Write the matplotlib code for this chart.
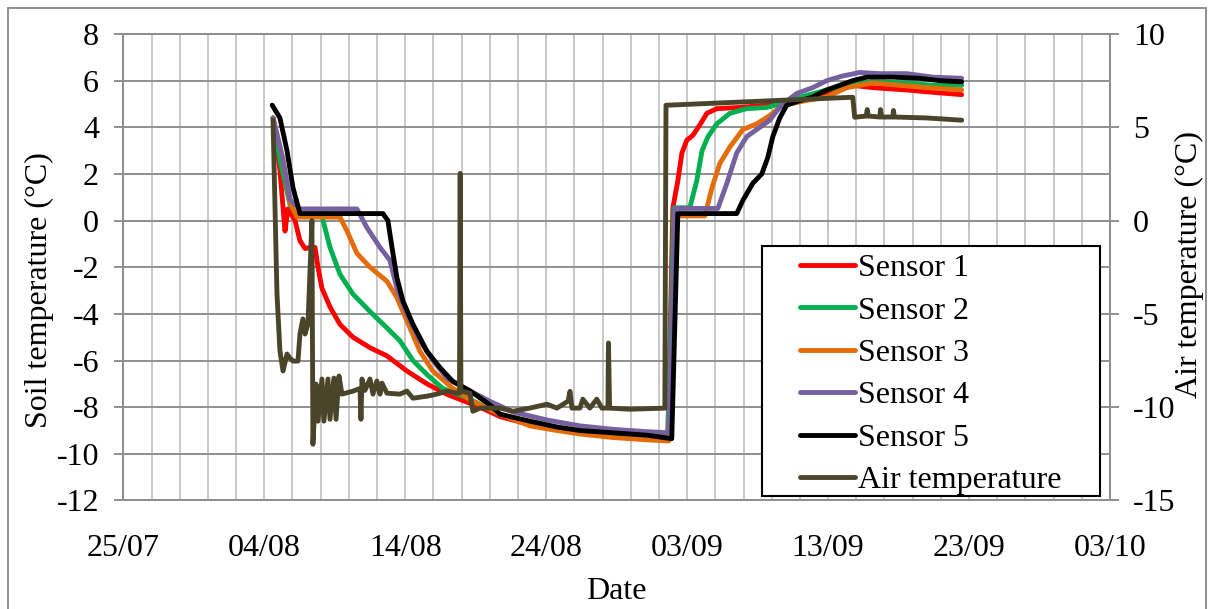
import matplotlib
matplotlib.use('Agg')
import matplotlib.pyplot as plt
from matplotlib.patches import Rectangle
from matplotlib.ticker import MultipleLocator

plt.rcParams['font.family'] = ['Liberation Serif', 'DejaVu Serif']
plt.rcParams['axes.unicode_minus'] = False

# x values are days counted from 25/07
date_labels = ['25/07', '04/08', '14/08', '24/08', '03/09', '13/09', '23/09', '03/10']

s1_day = [10.62, 11.11, 11.47, 11.68, 12.18, 12.53, 12.89, 13.24, 13.60, 13.81,
          14.09, 14.66, 15.37, 16.29, 17.50, 18.70, 20.12, 21.54, 22.96, 25.30,
          26.72, 28.84, 30.76, 32.39, 34.73, 37.14, 38.63, 38.99, 39.34, 39.63,
          39.98, 40.40, 40.90, 41.40, 42.11, 43.74, 45.65, 46.57, 47.78, 49.91,
          51.75, 53.17, 55.58, 57.42, 59.48]
s1_val = [4.4, 2.15, -0.45, 0.5, 0.0, -0.86, -1.2, -1.15, -1.15, -2.0,
          -2.9, -3.7, -4.45, -5.0, -5.45, -5.8, -6.45, -7.0, -7.45, -8.0,
          -8.4, -8.75, -8.9, -9.05, -9.15, -9.25, -9.3, 0.55, 1.7, 2.9,
          3.45, 3.65, 4.1, 4.6, 4.8, 4.85, 4.95, 5.0, 5.25, 5.45,
          5.8, 5.7, 5.6, 5.5, 5.4]

s2_day = [10.62, 11.11, 11.82, 12.32, 14.09, 14.66, 15.37, 16.29, 17.50, 18.70,
          19.62, 20.55, 21.54, 22.67, 24.38, 26.72, 28.84, 30.76, 32.39, 34.73,
          37.14, 38.63, 39.06, 40.19, 40.68, 41.06, 41.48, 42.11, 43.03, 44.23,
          45.65, 46.57, 47.78, 49.91, 51.75, 53.17, 55.58, 57.42, 59.48]
s2_val = [4.4, 2.6, 0.7, 0.2, 0.2, -1.15, -2.3, -3.15, -3.9, -4.6,
          -5.15, -6.0, -6.6, -7.2, -7.6, -8.3, -8.7, -8.9, -9.05, -9.15,
          -9.25, -9.3, 0.55, 0.55, 1.7, 3.0, 3.6, 4.15, 4.6, 4.8,
          4.85, 5.0, 5.25, 5.6, 5.85, 5.95, 5.9, 5.8, 5.8]

s3_day = [10.62, 11.33, 11.82, 12.32, 15.37, 15.87, 16.57, 17.50, 18.70, 19.41,
          20.12, 21.04, 21.96, 23.38, 24.80, 26.72, 28.84, 30.76, 32.39, 34.73,
          37.14, 38.70, 39.13, 41.26, 41.76, 42.32, 43.03, 43.95, 44.94, 45.86,
          46.57, 47.28, 48.48, 49.91, 51.33, 53.17, 55.09, 57.00, 59.48]
s3_val = [4.4, 2.6, 0.8, 0.15, 0.15, -0.45, -1.4, -2.0, -2.6, -3.3,
          -4.3, -5.6, -6.45, -7.2, -7.75, -8.3, -8.8, -9.0, -9.15, -9.3,
          -9.4, -9.45, 0.2, 0.2, 1.4, 2.45, 3.15, 3.9, 4.15, 4.5,
          4.85, 5.0, 5.15, 5.3, 5.7, 5.9, 5.8, 5.7, 5.6]

s4_day = [10.62, 11.33, 11.82, 12.53, 16.57, 17.28, 18.21, 18.91, 19.41, 20.12,
          21.04, 21.96, 22.96, 24.59, 26.01, 27.64, 30.06, 32.39, 34.73, 37.14,
          38.70, 39.13, 42.18, 42.82, 43.52, 44.23, 45.16, 45.86, 46.36, 46.79,
          47.78, 48.91, 49.91, 51.04, 52.25, 53.67, 55.58, 57.42, 59.48]
s4_val = [4.4, 2.6, 0.9, 0.5, 0.5, -0.3, -1.15, -1.7, -2.9, -4.0,
          -5.15, -6.0, -6.75, -7.3, -7.75, -8.2, -8.55, -8.8, -8.95, -9.05,
          -9.1, 0.52, 0.52, 1.6, 2.9, 3.6, 4.0, 4.3, 4.7, 5.0,
          5.45, 5.7, 6.0, 6.2, 6.35, 6.3, 6.3, 6.15, 6.1]

s5_day = [10.56, 11.11, 11.61, 12.04, 12.53, 18.42, 18.77, 19.06, 19.41, 19.84,
          20.55, 21.54, 22.46, 23.38, 24.59, 26.01, 26.72, 28.84, 30.76, 32.39,
          34.73, 37.14, 38.91, 39.34, 43.52, 43.95, 44.66, 45.30, 45.72, 46.08,
          46.57, 47.07, 47.78, 48.91, 49.91, 50.83, 51.75, 52.74, 54.59, 56.50,
          57.92, 59.48]
s5_val = [4.95, 4.4, 3.0, 1.4, 0.3, 0.3, 0.0, -1.15, -2.45, -3.45,
          -4.45, -5.6, -6.3, -6.9, -7.3, -7.9, -8.3, -8.6, -8.85, -9.0,
          -9.1, -9.2, -9.35, 0.3, 0.3, 0.86, 1.6, 2.0, 2.7, 3.6,
          4.4, 4.95, 5.1, 5.3, 5.6, 5.8, 6.0, 6.15, 6.15, 6.1,
          6.0, 5.95]

air_day = [10.62, 10.90, 11.11, 11.33, 11.61, 11.82, 12.04, 12.39, 12.53, 12.74,
           12.89, 13.10, 13.38, 13.45, 13.67, 13.81, 14.09, 14.23, 14.52, 14.66,
           14.94, 15.09, 15.30, 15.51, 16.29, 16.79, 16.86, 16.93, 17.14, 17.50,
           17.71, 17.99, 18.21, 18.35, 18.70, 19.62, 20.12, 20.55, 21.54, 22.25,
           22.96, 23.67, 23.85, 23.90, 23.95, 24.59, 24.80, 25.30, 26.72, 27.64,
           28.84, 30.06, 30.76, 31.55, 31.69, 31.83, 32.39, 32.60, 33.10, 33.59,
           33.95, 34.38, 34.42, 34.50, 35.93, 38.42, 38.50, 51.75, 51.89, 52.70,
           52.78, 52.85, 53.67, 53.72, 53.80, 54.59, 54.64, 54.70, 57.00, 59.48]
air_val = [5.38, -3.92, -6.99, -8.06, -7.15, -7.37, -7.53, -7.53, -6.08, -5.27,
           -6.08, -5.54, 0.0, -11.99, -8.76, -10.75, -8.49, -10.75, -8.49, -10.65,
           -8.44, -10.65, -8.33, -9.30, -9.14, -9.0, -10.65, -8.49, -9.1, -8.49,
           -9.30, -8.60, -9.30, -8.71, -9.25, -9.30, -9.14, -9.52, -9.41, -9.30,
           -9.14, -9.25, -9.25, 2.53, -9.14, -9.25, -10.22, -10.05, -10.05, -10.22,
           -10.05, -9.84, -10.05, -9.68, -9.15, -10.05, -10.05, -9.57, -10.05, -9.57,
           -10.05, -10.05, -6.56, -10.05, -10.11, -10.05, 6.18, 6.61, 5.54, 5.6,
           5.95, 5.6, 5.55, 5.95, 5.55, 5.55, 5.9, 5.55, 5.5, 5.38]

labels = ['Sensor 1', 'Sensor 2', 'Sensor 3', 'Sensor 4', 'Sensor 5', 'Air temperature']
colors = ['#ff0000', '#00b050', '#e46c0a', '#7660a0', '#000000', '#4a452a']

grid_dark = '#8f8f8f'
grid_light = '#c4c4c4'
fs = 23

fig = plt.figure(figsize=(12.14, 6.09), dpi=100)
ax = fig.add_axes([0.1016, 0.1782, 0.8127, 0.766])
ax2 = ax.twinx()

sensors = [(s1_day, s1_val), (s2_day, s2_val), (s3_day, s3_val),
           (s4_day, s4_val), (s5_day, s5_val)]
for (d, v), c, lab in zip(sensors, colors, labels):
    ax.plot(d, v, color=c, lw=3.5, label=lab, solid_joinstyle='round', solid_capstyle='round')
ax2.plot(air_day, air_val, color=colors[5], lw=3.5, label=labels[5],
         solid_joinstyle='round', solid_capstyle='round')

ax.set_xlim(0, 70)
ax.set_ylim(-12, 8)
ax2.set_ylim(-15, 10)
ax.set_xticks(range(0, 71, 10))
ax.set_xticklabels(date_labels)
ax.xaxis.set_minor_locator(MultipleLocator(2))
ax.set_yticks(range(-12, 9, 2))
ax2.set_yticks(range(-15, 11, 5))

ax.set_axisbelow(True)
ax.grid(axis='x', which='both', color=grid_light, lw=1.3)
ax.grid(axis='y', which='major', color=grid_dark, lw=1.4)

ax.tick_params(axis='x', which='both', length=0, pad=24, labelsize=fs)
ax.tick_params(axis='y', direction='out', length=6.5, width=1.4, color=grid_dark, pad=11, labelsize=fs)
ax2.tick_params(axis='y', direction='out', length=6.5, width=1.4, color=grid_dark, pad=10, labelsize=fs)

for a in (ax, ax2):
    for s in a.spines.values():
        s.set_color(grid_dark)
        s.set_linewidth(1.4)

# horizontal axis crossing at zero with its tick marks
sec = ax.secondary_xaxis(0, transform=ax.transData)
sec.set_xticks(range(0, 71, 10))
sec.set_xticklabels([])
sec.tick_params(length=6, width=1.4, color=grid_dark, direction='out')
sec.spines['bottom'].set_color(grid_dark)
sec.spines['bottom'].set_linewidth(1.4)

ax.set_ylabel('Soil temperature (°C)', fontsize=fs)
ax.yaxis.set_label_coords(-0.07, 0.45)
ax2.set_ylabel('Air temperature (°C)', fontsize=fs)
ax2.yaxis.set_label_coords(1.066, 0.505)
ax.set_xlabel('Date', fontsize=fs)
ax.xaxis.set_label_coords(0.5, -0.165)

# legend box
ax2.add_patch(Rectangle((0.647, 0.009), 0.343, 0.537, transform=ax2.transAxes,
                        facecolor='white', edgecolor='black', lw=1.5, zorder=5))
handles = ax.get_lines() + ax2.get_lines()
leg = ax2.legend(handles, labels, loc='upper left', bbox_to_anchor=(0.686, 0.529),
                 frameon=False, fontsize=fs, handlelength=1.72, handletextpad=0.1,
                 labelspacing=0.41, borderpad=0, borderaxespad=0)
leg.set_zorder(6)

# outer chart border
fig.patches.append(Rectangle((8 / 1214, -0.05), 1198 / 1214, 1 - 8 / 609 + 0.05,
                             transform=fig.transFigure, fill=False,
                             edgecolor=grid_dark, lw=1.4))

fig.savefig('out.png', dpi=100)
